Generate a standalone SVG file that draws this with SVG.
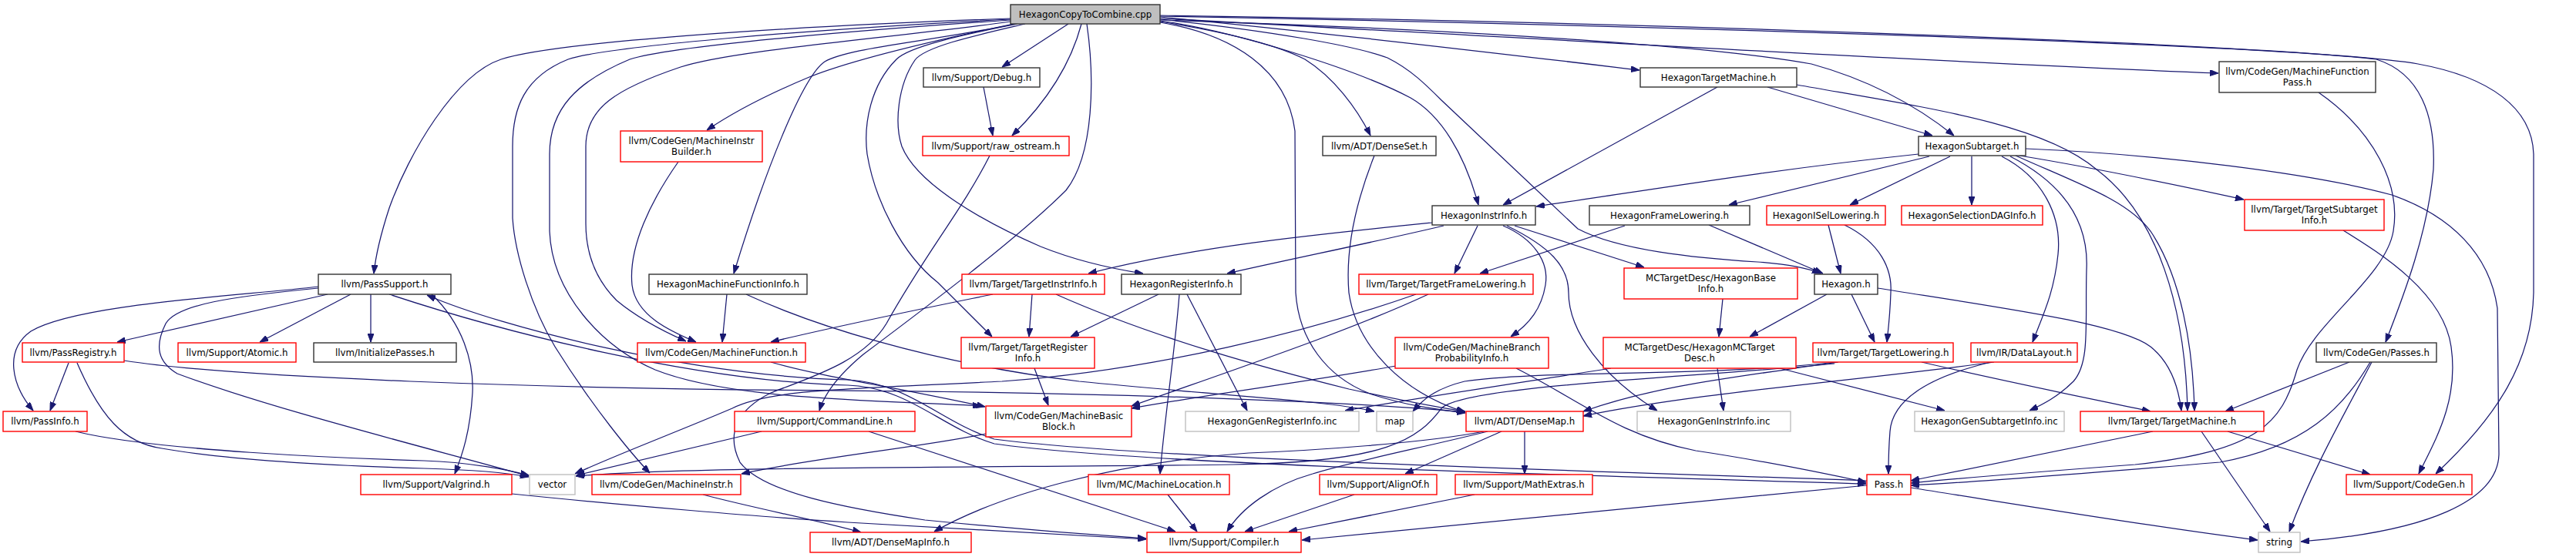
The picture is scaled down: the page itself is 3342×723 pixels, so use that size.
<svg xmlns="http://www.w3.org/2000/svg" width="3342" height="723" viewBox="0 0 3342 723">
<defs>
<marker id="ah" markerWidth="11" markerHeight="8" refX="11" refY="4" orient="auto" markerUnits="userSpaceOnUse"><path d="M0,0L11,4L0,8z" fill="#191970" stroke="#191970" stroke-width="1"/></marker>
<style>
rect{fill:#fff;stroke-width:1.4}
.b rect{stroke:#333}
.r rect{stroke:#ff0000}
.g rect{stroke:#bfbfbf}
.root rect{fill:#bfbfbf;stroke:#333}
text{font-family:"DejaVu Sans","Liberation Sans",sans-serif;font-size:11.8px;fill:#000;text-anchor:middle}
#edges path{fill:none;stroke:#191970;stroke-width:1.25;marker-end:url(#ah)}
</style>
</defs>
<rect x="0" y="0" width="3342" height="723" style="fill:#fff;stroke:none"/>
<g id="edges">
<!-- root edges -->
<path d="M1311,24 C1000,35 720,55 650,77 C590,97 530,200 505,270 C492,310 487,335 485,355"/>
<path d="M1311,25 C1050,38 790,60 737,77 C680,100 665,140 665,190 L665,283 C668,330 690,400 720,450 C770,530 820,590 843,614"/>
<path d="M1311,26 C1100,40 870,60 817,77 C750,105 713,140 713,200 L713,300 C716,380 780,450 850,480 C950,520 1150,520 1273,527"/>
<path d="M1311,28 C1150,50 950,65 883,87 C800,115 760,140 760,190 L760,290 C760,340 780,370 800,390 C830,415 865,432 890,443"/>
<path d="M1315,31 C1200,55 1100,80 1050,100 C990,125 945,150 917,169"/>
<path d="M1318,31 C1200,55 1100,62 1070,80 C1040,100 990,230 952,355"/>
<path d="M1386,31 L1300,87"/>
<path d="M1403,31 C1390,80 1360,130 1313,176"/>
<path d="M1410,31 C1420,100 1420,200 1383,247 C1320,310 1200,400 1120,460 C1090,485 1070,510 1063,533"/>
<path d="M1320,31 C1250,45 1180,60 1163,77 C1130,110 1120,160 1125,200 C1135,260 1170,330 1217,367 C1240,390 1265,415 1287,437"/>
<path d="M1330,31 C1270,45 1200,60 1187,78 C1165,110 1160,160 1170,190 C1190,240 1280,290 1350,320 C1400,340 1450,350 1483,355"/>
<path d="M1505,28 C1580,40 1650,55 1693,77 C1730,100 1760,140 1778,176"/>
<path d="M1505,27 C1600,40 1760,90 1830,127 C1870,150 1900,200 1918,266"/>
<path d="M1505,25 C1650,40 1760,60 1800,75 C1830,90 1850,110 1870,130 L2047,297 C2100,325 2200,335 2280,340 C2320,343 2345,348 2362,355"/>
<path d="M1505,29 C1600,45 1670,90 1680,170 L1681,380 C1685,440 1720,490 1780,512 C1830,528 1870,532 1901,536"/>
<path d="M1505,22 C1700,40 1950,70 2127,91"/>
<path d="M1505,26 C1800,35 2200,55 2350,83 C2430,105 2490,140 2535,176"/>
<path d="M1505,24 C2000,50 2500,80 2878,95"/>
<path d="M1505,21 C2000,30 2900,55 3083,77 C3140,95 3160,150 3157,220 C3150,300 3120,380 3095,444"/>
<path d="M1505,20 C2200,30 3000,60 3137,83 C3230,100 3285,140 3287,200 L3287,380 C3285,470 3240,540 3160,615"/>
<!-- other edges -->
<path d="M1276,113 L1288,176"/>
<path d="M1284,202 C1250,270 1200,330 1150,420 C1120,470 1050,490 1000,510 C960,530 940,560 960,600 C990,640 1100,660 1200,675 C1350,690 1430,695 1487,699"/>
<path d="M880,210 C845,260 815,320 820,370 C825,410 870,430 903,444"/>
<path d="M943,382 L937,444"/>
<path d="M968,382 C1050,420 1200,470 1400,495 C1600,515 1720,520 1783,534"/>
<path d="M425,382 L152,444"/>
<path d="M455,382 L337,444"/>
<path d="M481,382 L481,444"/>
<path d="M413,372 C300,385 100,395 40,430 C5,455 15,500 43,533"/>
<path d="M413,374 C300,385 230,395 215,420 C200,450 205,470 230,485 C350,530 550,580 686,618"/>
<path d="M560,382 C600,420 615,470 613,510 C610,560 600,590 590,615"/>
<path d="M505,382 C650,430 900,495 1100,500 C1180,503 1220,555 1290,576 C1500,605 2100,618 2421,628"/>
<path d="M2422,624 C2100,612 1500,597 1290,570 C1220,548 1180,497 1100,493 C900,488 650,425 554,383"/>
<path d="M89,471 L65,533"/>
<path d="M100,471 C130,540 160,575 210,582 C300,598 450,605 550,608 C620,610 660,614 686,619"/>
<path d="M161,468 C300,490 700,505 1100,507 C1500,510 1800,525 1901,535"/>
<path d="M98,560 C200,585 450,595 550,598 C610,600 660,610 686,617"/>
<path d="M664,641 C800,655 1000,672 1100,678 C1300,690 1420,695 1487,700"/>
<path d="M988,560 L748,617"/>
<path d="M1127,560 L1525,690"/>
<path d="M912,642 C980,660 1060,675 1117,691"/>
<path d="M1279,563 C1200,580 1050,595 962,615"/>
<path d="M1000,470 C1070,490 1150,500 1278,528"/>
<path d="M1288,382 C1200,400 1100,420 1000,444"/>
<path d="M1339,382 L1335,437"/>
<path d="M1370,382 C1500,440 1650,480 1750,505 C1820,520 1870,530 1901,534"/>
<path d="M1503,382 L1389,437"/>
<path d="M1530,382 C1525,450 1510,550 1505,615"/>
<path d="M1540,382 L1618,533"/>
<path d="M1342,478 L1360,526"/>
<path d="M1515,642 L1553,690"/>
<path d="M1925,560 C1850,575 1700,585 1620,588 C1450,600 1300,640 1212,690"/>
<path d="M1948,560 L1823,615"/>
<path d="M1978,560 L1978,615"/>
<path d="M1930,560 C1850,580 1750,600 1703,615 C1650,630 1610,660 1592,690"/>
<path d="M1757,642 L1615,690"/>
<path d="M1913,642 L1672,690"/>
<path d="M2422,630 C2200,652 1900,680 1689,701"/>
<path d="M2479,633 C2650,660 2800,685 2929,701"/>
<path d="M1783,202 C1760,260 1745,320 1750,380 C1760,450 1820,510 1901,535"/>
<path d="M1858,289 C1700,305 1550,320 1412,355"/>
<path d="M1873,293 C1780,315 1680,335 1592,355"/>
<path d="M1917,293 L1887,355"/>
<path d="M1965,293 L2133,347"/>
<path d="M1950,293 C1990,310 2010,340 2005,370 C2000,400 1985,420 1960,437"/>
<path d="M1955,293 C2010,320 2035,345 2035,380 C2035,430 2080,490 2150,533"/>
<path d="M2108,293 L1920,355"/>
<path d="M2217,292 L2365,355"/>
<path d="M2228,113 L1950,266"/>
<path d="M2293,113 L2507,176"/>
<path d="M2331,110 C2500,140 2650,160 2720,220 C2800,280 2835,400 2838,533"/>
<path d="M2489,200 C2300,220 2150,245 1993,268"/>
<path d="M2503,203 L2243,266"/>
<path d="M2530,203 L2400,266"/>
<path d="M2558,203 L2558,266"/>
<path d="M2597,203 C2650,230 2675,280 2670,330 C2665,380 2650,410 2637,444"/>
<path d="M2608,203 C2680,240 2710,290 2707,350 C2705,420 2712,470 2690,495 C2670,515 2650,525 2633,533"/>
<path d="M2615,202 C2700,240 2760,260 2790,300 C2830,360 2845,450 2847,533"/>
<path d="M2620,202 C2700,215 2800,235 2911,259"/>
<path d="M2628,193 C2800,200 3000,225 3103,253 C3180,280 3230,330 3240,400 L3242,590 C3240,650 3150,690 2985,703"/>
<path d="M2372,292 L2388,355"/>
<path d="M2393,292 C2440,315 2455,350 2453,380 C2452,410 2450,425 2448,444"/>
<path d="M2235,388 L2230,437"/>
<path d="M2370,382 L2270,437"/>
<path d="M2402,382 L2432,444"/>
<path d="M2436,374 C2600,400 2750,420 2790,450 C2815,470 2826,500 2830,533"/>
<path d="M2228,478 L2236,533"/>
<path d="M2090,478 C1950,500 1850,515 1745,533"/>
<path d="M2305,477 L2523,533"/>
<path d="M2383,470 C2200,490 2000,480 1900,495 C1860,505 1845,520 1833,534"/>
<path d="M2380,472 C2200,490 1900,500 1870,530 C1840,570 1800,600 1600,603 C1300,607 900,605 747,618"/>
<path d="M2385,470 C2250,490 2150,500 2054,534"/>
<path d="M2587,470 C2400,495 2200,510 2054,540"/>
<path d="M2493,470 C2600,495 2700,515 2790,534"/>
<path d="M2583,470 C2500,490 2455,520 2452,560 C2450,585 2450,600 2450,615"/>
<path d="M2793,560 L2479,624"/>
<path d="M2890,560 L3075,616"/>
<path d="M2856,560 L2945,690"/>
<path d="M3008,120 C3080,170 3115,240 3105,300 C3095,360 3000,420 2980,480 C2960,550 2930,585 2770,603 C2650,612 2550,620 2479,627"/>
<path d="M3040,299 C3090,330 3170,380 3180,450 C3190,520 3160,570 3138,615"/>
<path d="M3048,470 L2887,534"/>
<path d="M3075,470 C3040,530 2990,580 2880,600 C2700,615 2560,626 2479,630"/>
<path d="M3077,470 C3040,540 3000,610 2970,690"/>
<path d="M1811,475 C1700,495 1580,510 1468,530"/>
<path d="M1967,478 C2050,520 2100,565 2200,585 C2300,600 2370,615 2421,626"/>
<path d="M1853,382 C1750,430 1600,480 1468,527"/>
<path d="M1837,382 C1700,430 1500,480 1300,495 C1100,505 1000,505 950,530 C880,560 800,590 746,615"/>
</g>
<g id="root" class="root"><rect x="1311" y="6" width="194" height="25"/><text x="1408" y="22.8">HexagonCopyToCombine.cpp</text></g>
<g id="debug" class="b"><rect x="1198" y="88" width="151" height="25"/><text x="1273.5" y="104.8">llvm/Support/Debug.h</text></g>
<g id="rawos" class="r"><rect x="1197" y="177" width="190" height="25"/><text x="1292" y="193.8">llvm/Support/raw_ostream.h</text></g>
<g id="mib" class="r"><rect x="805" y="170" width="184" height="40"/><text x="897" y="187">llvm/CodeGen/MachineInstr</text><text x="897" y="201.3">Builder.h</text></g>
<g id="hmfi" class="b"><rect x="842" y="356" width="205" height="26"/><text x="944.5" y="373.3">HexagonMachineFunctionInfo.h</text></g>
<g id="passsupport" class="b"><rect x="413" y="356" width="172" height="26"/><text x="499" y="373.3">llvm/PassSupport.h</text></g>
<g id="passregistry" class="r"><rect x="29" y="445" width="132" height="25"/><text x="95" y="461.8">llvm/PassRegistry.h</text></g>
<g id="atomic" class="r"><rect x="231" y="445" width="153" height="25"/><text x="307.5" y="461.8">llvm/Support/Atomic.h</text></g>
<g id="initpasses" class="b"><rect x="407" y="445" width="185" height="25"/><text x="499.5" y="461.8">llvm/InitializePasses.h</text></g>
<g id="passinfo" class="r"><rect x="4" y="534" width="109" height="26"/><text x="58.5" y="551.3">llvm/PassInfo.h</text></g>
<g id="valgrind" class="r"><rect x="468" y="616" width="196" height="26"/><text x="566" y="633.3">llvm/Support/Valgrind.h</text></g>
<g id="vector" class="g"><rect x="687" y="616" width="59" height="26"/><text x="716.5" y="633.3">vector</text></g>
<g id="minstr" class="r"><rect x="768" y="616" width="193" height="26"/><text x="864.5" y="633.3">llvm/CodeGen/MachineInstr.h</text></g>
<g id="mfunc" class="r"><rect x="827" y="445" width="218" height="25"/><text x="936" y="461.8">llvm/CodeGen/MachineFunction.h</text></g>
<g id="cmdline" class="r"><rect x="953" y="534" width="234" height="26"/><text x="1070" y="551.3">llvm/Support/CommandLine.h</text></g>
<g id="dmapinfo" class="r"><rect x="1051" y="691" width="209" height="26"/><text x="1155.5" y="708.3">llvm/ADT/DenseMapInfo.h</text></g>
<g id="tii" class="r"><rect x="1248" y="356" width="185" height="26"/><text x="1340.5" y="373.3">llvm/Target/TargetInstrInfo.h</text></g>
<g id="hri" class="b"><rect x="1455" y="356" width="155" height="26"/><text x="1532.5" y="373.3">HexagonRegisterInfo.h</text></g>
<g id="tri" class="r"><rect x="1247" y="438" width="173" height="40"/><text x="1333.5" y="455">llvm/Target/TargetRegister</text><text x="1333.5" y="469.3">Info.h</text></g>
<g id="mbb" class="r"><rect x="1279" y="527" width="189" height="40"/><text x="1373.5" y="544">llvm/CodeGen/MachineBasic</text><text x="1373.5" y="558.3">Block.h</text></g>
<g id="hgenreg" class="g"><rect x="1538" y="534" width="225" height="26"/><text x="1650.5" y="551.3">HexagonGenRegisterInfo.inc</text></g>
<g id="mloc" class="r"><rect x="1412" y="616" width="183" height="26"/><text x="1503.5" y="633.3">llvm/MC/MachineLocation.h</text></g>
<g id="compiler" class="r"><rect x="1488" y="691" width="200" height="26"/><text x="1588" y="708.3">llvm/Support/Compiler.h</text></g>
<g id="denseset" class="b"><rect x="1716" y="177" width="147" height="25"/><text x="1789.5" y="193.8">llvm/ADT/DenseSet.h</text></g>
<g id="hii" class="b"><rect x="1858" y="267" width="134" height="25"/><text x="1925" y="283.8">HexagonInstrInfo.h</text></g>
<g id="hfl" class="b"><rect x="2062" y="267" width="208" height="25"/><text x="2166" y="283.8">HexagonFrameLowering.h</text></g>
<g id="htm" class="b"><rect x="2128" y="88" width="203" height="25"/><text x="2229.5" y="104.8">HexagonTargetMachine.h</text></g>
<g id="tfl" class="r"><rect x="1763" y="356" width="226" height="26"/><text x="1876" y="373.3">llvm/Target/TargetFrameLowering.h</text></g>
<g id="mbpi" class="r"><rect x="1810" y="438" width="199" height="40"/><text x="1909.5" y="455">llvm/CodeGen/MachineBranch</text><text x="1909.5" y="469.3">ProbabilityInfo.h</text></g>
<g id="hbase" class="r"><rect x="2107" y="348" width="225" height="40"/><text x="2219.5" y="365">MCTargetDesc/HexagonBase</text><text x="2219.5" y="379.3">Info.h</text></g>
<g id="hmctd" class="r"><rect x="2080" y="438" width="250" height="40"/><text x="2205" y="455">MCTargetDesc/HexagonMCTarget</text><text x="2205" y="469.3">Desc.h</text></g>
<g id="map" class="g"><rect x="1786" y="534" width="47" height="26"/><text x="1809.5" y="551.3">map</text></g>
<g id="densemap" class="r"><rect x="1902" y="534" width="152" height="26"/><text x="1978" y="551.3">llvm/ADT/DenseMap.h</text></g>
<g id="alignof" class="r"><rect x="1712" y="616" width="152" height="26"/><text x="1788" y="633.3">llvm/Support/AlignOf.h</text></g>
<g id="mathextras" class="r"><rect x="1888" y="616" width="178" height="26"/><text x="1977" y="633.3">llvm/Support/MathExtras.h</text></g>
<g id="hgeninstr" class="g"><rect x="2124" y="534" width="199" height="26"/><text x="2223.5" y="551.3">HexagonGenInstrInfo.inc</text></g>
<g id="hst" class="b"><rect x="2489" y="177" width="139" height="25"/><text x="2558.5" y="193.8">HexagonSubtarget.h</text></g>
<g id="hisel" class="r"><rect x="2292" y="267" width="154" height="25"/><text x="2369" y="283.8">HexagonISelLowering.h</text></g>
<g id="hseldag" class="r"><rect x="2467" y="267" width="183" height="25"/><text x="2558.5" y="283.8">HexagonSelectionDAGInfo.h</text></g>
<g id="hexagon" class="b"><rect x="2354" y="356" width="82" height="26"/><text x="2395" y="373.3">Hexagon.h</text></g>
<g id="tlow" class="r"><rect x="2352" y="445" width="182" height="25"/><text x="2443" y="461.8">llvm/Target/TargetLowering.h</text></g>
<g id="dlayout" class="r"><rect x="2557" y="445" width="138" height="25"/><text x="2626" y="461.8">llvm/IR/DataLayout.h</text></g>
<g id="hgensub" class="g"><rect x="2484" y="534" width="194" height="26"/><text x="2581" y="551.3">HexagonGenSubtargetInfo.inc</text></g>
<g id="pass" class="r"><rect x="2422" y="616" width="57" height="26"/><text x="2450.5" y="633.3">Pass.h</text></g>
<g id="tm" class="r"><rect x="2699" y="534" width="238" height="26"/><text x="2818" y="551.3">llvm/Target/TargetMachine.h</text></g>
<g id="mfp" class="b"><rect x="2879" y="80" width="203" height="40"/><text x="2980.5" y="97">llvm/CodeGen/MachineFunction</text><text x="2980.5" y="111.3">Pass.h</text></g>
<g id="tsi" class="r"><rect x="2912" y="259" width="181" height="40"/><text x="3002.5" y="276">llvm/Target/TargetSubtarget</text><text x="3002.5" y="290.3">Info.h</text></g>
<g id="passes" class="b"><rect x="3005" y="445" width="156" height="25"/><text x="3083" y="461.8">llvm/CodeGen/Passes.h</text></g>
<g id="codegen" class="r"><rect x="3044" y="616" width="163" height="26"/><text x="3125.5" y="633.3">llvm/Support/CodeGen.h</text></g>
<g id="string" class="g"><rect x="2930" y="691" width="54" height="26"/><text x="2957" y="708.3">string</text></g>
</svg>
